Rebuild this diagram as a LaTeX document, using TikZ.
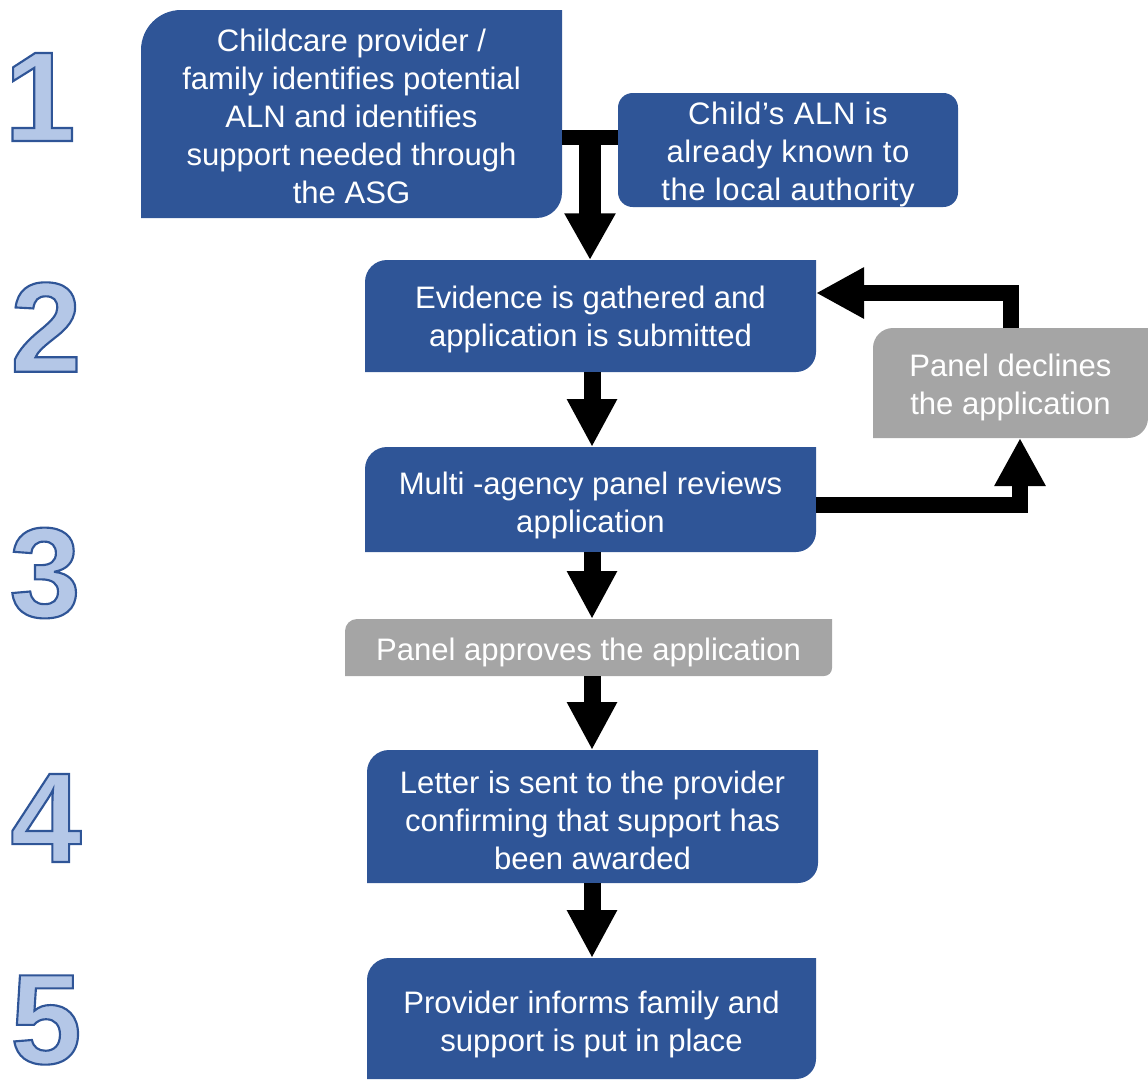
\documentclass[tikz,border=0pt]{standalone}
\usepackage{fontspec}
\setmainfont{Liberation Sans}
\usetikzlibrary{arrows.meta}
\definecolor{boxblue}{HTML}{2F5597}
\definecolor{boxgray}{HTML}{A5A5A5}
% node, top-left radius, bottom-right radius, colour
\newcommand\diagfill[4]{%
  \fill[#4] (#1.south west) -- ([yshift=-#2]#1.north west)
    arc[start angle=180,end angle=90,radius=#2] -- (#1.north east)
    -- ([yshift=#3]#1.south east) arc[start angle=0,end angle=-90,radius=#3] -- cycle;}
% outlined digit: light blue fill, dark blue stroke
\newcommand\outdigit[1]{\special{pdf:code q 2 Tr 1.6 w 0.1843 0.3333 0.5922 RG 0.7059 0.7804 0.9059 rg}#1\special{pdf:code Q}}
\tikzset{
  shapebox/.style={inner sep=0pt, outer sep=0pt},
  boxtext/.style={text=white, align=center, inner sep=0pt,
    font=\fontsize{23.3}{28.5}\selectfont},
  numtext/.style={inner sep=0pt, font=\fontsize{96}{100}\selectfont\bfseries},
  arr/.style={line width=12.75pt, -{Triangle[width=35.25pt,length=36pt]}},
  arrwide/.style={line width=16.5pt, -{Triangle[width=36pt,length=35pt]}},
  arrloop/.style={line width=12pt, -{Triangle[width=36pt,length=36pt]}},
  bar/.style={line width=11.25pt},
}
\begin{document}
\begin{tikzpicture}[x=0.75pt,y=-0.75pt]
\useasboundingbox (0,0) rectangle (1148,1079);

% box shapes
\node[shapebox, minimum width=315.75pt, minimum height=156pt] (b1) at (351.5,114) {};
\node[shapebox, fill=boxblue, rounded corners=11pt, minimum width=255pt, minimum height=85.5pt] (child) at (788,150) {};
\node[shapebox, minimum width=338.25pt, minimum height=84pt] (b2) at (590.5,316) {};
\node[shapebox, minimum width=338.25pt, minimum height=78.75pt] (b3) at (590.5,499.5) {};
\node[shapebox, minimum width=206.25pt, minimum height=82.5pt] (dec) at (1010.5,383) {};
\node[shapebox, minimum width=365.25pt, minimum height=42.75pt] (app) at (588.5,647.5) {};
\node[shapebox, minimum width=338.25pt, minimum height=99.75pt] (b4) at (592.5,816.5) {};
\node[shapebox, minimum width=336.75pt, minimum height=90.75pt] (b5) at (591.5,1018.5) {};

\diagfill{b1}{30pt}{19pt}{boxblue}
\diagfill{b2}{16.5pt}{15pt}{boxblue}
\diagfill{b3}{16.5pt}{15pt}{boxblue}
\diagfill{dec}{15pt}{15pt}{boxgray}
\diagfill{app}{9pt}{6pt}{boxgray}
\diagfill{b4}{16.5pt}{15pt}{boxblue}
\diagfill{b5}{16.5pt}{15pt}{boxblue}

% texts (digits interleaved with box texts)
\node[boxtext] (b1t) at ([yshift=-1.5pt]b1.center)
  {Childcare provider /\\family identifies potential\\ALN and identifies\\support needed through\\the ASG};
\node[numtext] (n1) at (40,97) {\outdigit{1}};
\node[boxtext] (childt) at ([yshift=-3.4pt]child.center)
  {\addfontfeatures{LetterSpace=2}Child’s ALN is\\\addfontfeatures{LetterSpace=2}already known to\\\addfontfeatures{LetterSpace=2}the local authority};
\node[boxtext] (b2t) at ([yshift=-2.25pt]b2.center)
  {Evidence is gathered and\\application is submitted};
\node[numtext] (n2) at (46,327) {\outdigit{2}};
\node[boxtext] (b3t) at ([yshift=-4.5pt]b3.center)
  {Multi -agency panel reviews\\application};
\node[numtext] (n3) at (45,573) {\outdigit{3}};
\node[boxtext] (dect) at ([yshift=-3.4pt]dec.center)
  {Panel declines\\the application};
\node[boxtext] (appt) at ([yshift=-3.75pt]app.center)
  {Panel approves the application};
\node[numtext] (n4) at (46,818) {\outdigit{4}};
\node[boxtext] (b4t) at ([yshift=-2.6pt]b4.center)
  {Letter is sent to the provider\\confirming that support has\\been awarded};
\node[numtext] (n5) at (46,1020) {\outdigit{5}};
\node[boxtext] (b5t) at ([yshift=-4.1pt]b5.center)
  {Provider informs family and\\support is put in place};

% connectors
\coordinate (j) at (590,130);
\coordinate (jb) at (590,137.5);
\coordinate (ax) at (592,0);
\coordinate (r3) at (1020,505);
\coordinate (r2) at (1011,293);

\draw[bar] (b1.east |- jb) -- (child.west |- jb);
\draw[arrwide] (j) -- (b2.north -| j);
\draw[arr] (b2.south -| ax) -- (b3.north -| ax);
\draw[arr] (b3.south -| ax) -- (app.north -| ax);
\draw[arr] (app.south -| ax) -- (b4.north -| ax);
\draw[arr] (b4.south -| ax) -- (b5.north -| ax);
\draw[arrloop] (b3.east |- r3) -| (dec.south -| r3);
\draw[arrloop] (dec.north -| r2) |- (b2.east |- r2);
\end{tikzpicture}
\end{document}
